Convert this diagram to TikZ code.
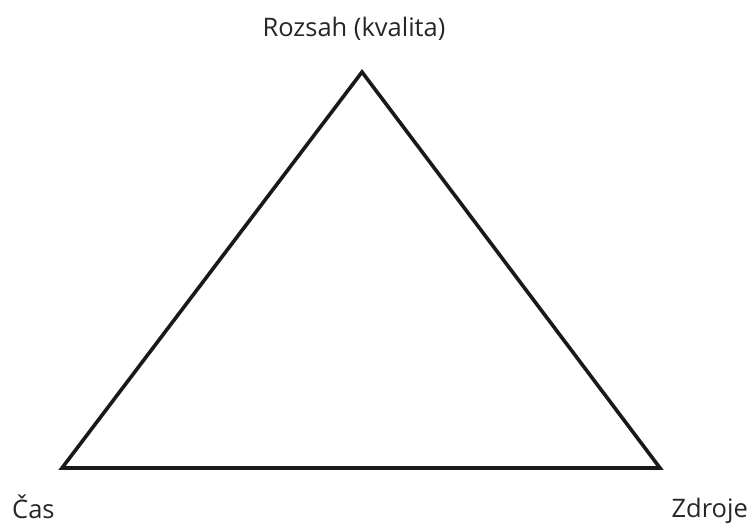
\documentclass[tikz,border=0pt]{standalone}
\usepackage{fontspec}
\setmainfont{Open Sans}
\begin{document}
\begin{tikzpicture}[x=1pt,y=-1pt,
  lbl/.style={inner sep=0pt,font=\fontsize{25.5}{30}\selectfont,text=black!85},
  edge/.style={line width=3.6pt,line join=miter,black!90}]
\useasboundingbox (0,0) rectangle (749,523);
\coordinate (top) at (362,72);
\coordinate (left) at (62,468);
\coordinate (right) at (660,468);
\draw[edge] (top) -- (right) -- (left) -- cycle;
\node[lbl,anchor=base] (rozsah) at (354,36) {Rozsah (kvalita)};
\node[lbl,anchor=base west] (cas) at (12,518) {Čas};
\node[lbl,anchor=base east] (zdroje) at (748,517) {Zdroje};
\end{tikzpicture}
\end{document}
